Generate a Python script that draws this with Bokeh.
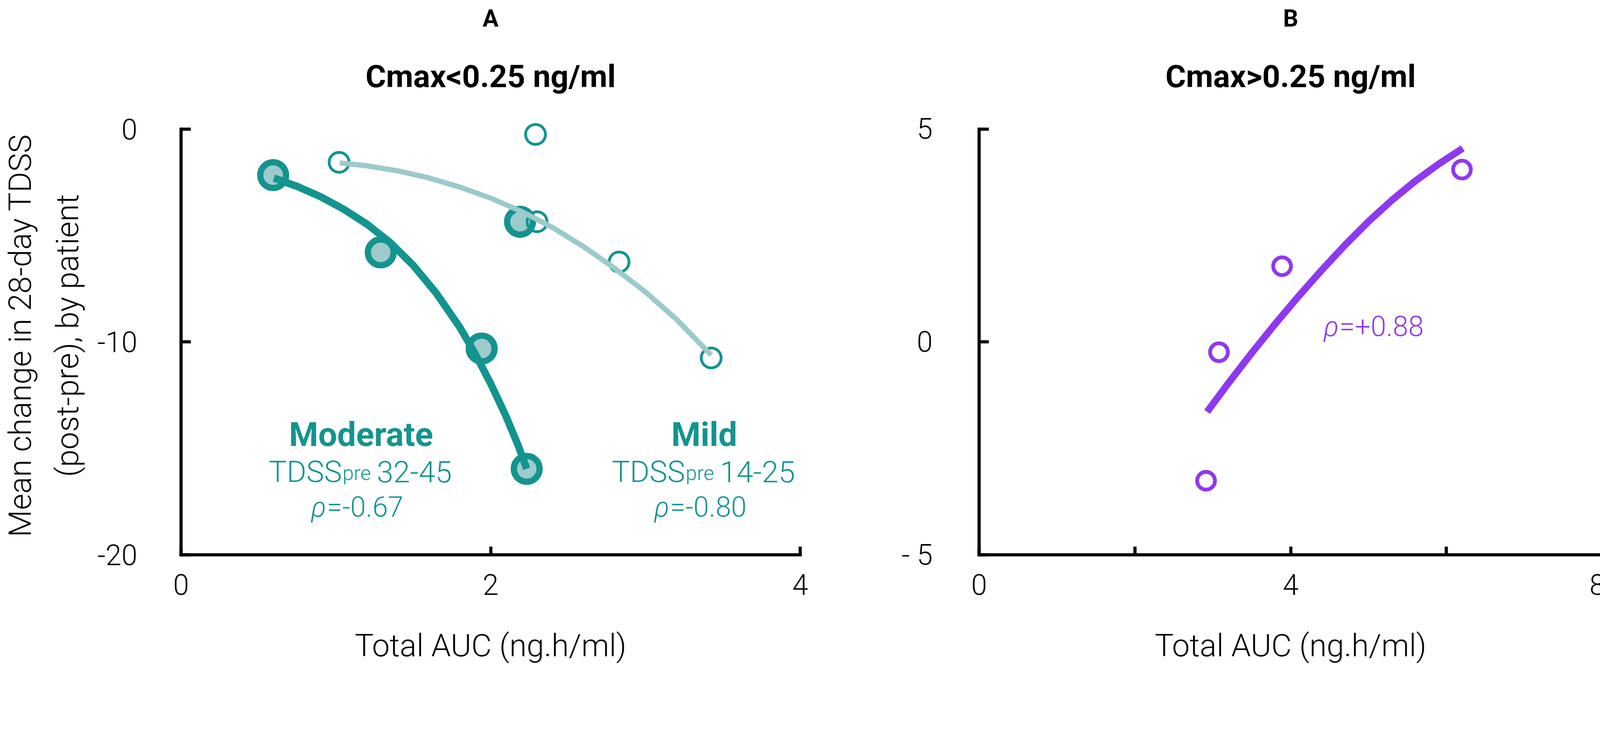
from bokeh.plotting import figure
from bokeh.models import Range1d, FixedTicker, Title, Label
from bokeh.layouts import row
from bokeh.embed import file_html
from bokeh.resources import INLINE

# ---------------- data ----------------
# Panel A : Cmax < 0.25 ng/ml
moderate_auc = [0.595, 1.29, 1.942, 2.233, 2.19]
moderate_dtdss = [-2.16, -5.79, -10.31, -15.96, -4.35]
mild_auc = [1.021, 2.29, 2.30, 2.83, 3.425]
mild_dtdss = [-1.56, -0.25, -4.35, -6.24, -10.75]
moderate_fit_auc = [0.60, 0.75, 0.90, 1.05, 1.20, 1.35, 1.50, 1.65, 1.80, 1.90, 2.00, 2.10, 2.18, 2.233]
moderate_fit_dtdss = [-2.30, -2.69, -3.17, -3.76, -4.46, -5.32, -6.40, -7.72, -9.30, -10.55,
                      -11.95, -13.50, -14.90, -15.96]
mild_fit_auc = [1.025, 1.20, 1.40, 1.60, 1.80, 2.00, 2.20, 2.40, 2.60, 2.80, 3.00, 3.20, 3.425]
mild_fit_dtdss = [-1.59, -1.72, -1.96, -2.29, -2.72, -3.24, -3.87, -4.62, -5.52, -6.53, -7.65,
                  -8.93, -10.62]

# Panel B : Cmax > 0.25 ng/ml
high_auc = [2.914, 3.08, 3.89, 6.20]
high_dtdss = [-3.26, -0.24, 1.78, 4.05]
high_fit_auc = [2.927, 3.2, 3.5, 3.8, 4.1, 4.4, 4.7, 5.0, 5.3, 5.6, 5.9, 6.21]
high_fit_dtdss = [-1.64, -0.97, -0.26, 0.42, 1.07, 1.69, 2.28, 2.83, 3.33, 3.78, 4.18, 4.55]

a_xticks = [0, 2, 4]
a_yticks = [-20, -10, 0]
a_ylabels = {-20: "-20", -10: "-10", 0: "0"}
b_xticks = [0, 4, 8]
b_xminor = [2, 6]
b_yticks = [-5, 0, 5]
b_ylabels = {-5: "- 5", 0: "0", 5: "5"}

# ---------------- styles ----------------
PX = 1 / 1.12          # reference pixels -> CSS pixels
TEAL = "#13948e"
TEAL_FILL = "#9dcbcc"
TEAL_LIGHT = "#9ccacb"
PURPLE = "#9038f0"
LIGHT = "Roboto Light"
BOLD = "Roboto"


def fs(v):
    return "%.1fpx" % (v * PX)


def ip(v):
    return int(round(v * PX))


H = 1701
TOP, BOTTOM = 297, 280
FRAME_H = H - TOP - BOTTOM
A_UNIT = 1222 * PX / 20     # px per y unit, panel A
B_UNIT = 1222 * PX / 10     # px per y unit, panel B


def style(p, ytick_in):
    p.outline_line_color = None
    p.grid.visible = False
    p.background_fill_color = "white"
    p.border_fill_color = "white"
    for ax in p.axis:
        ax.axis_line_width = 9 * PX
        ax.axis_line_color = "black"
        ax.axis_line_cap = "square"
        ax.major_tick_line_width = 9 * PX
        ax.major_tick_line_color = "black"
        ax.minor_tick_line_width = 9 * PX
        ax.minor_tick_line_color = "black"
        ax.major_tick_out = 0
        ax.minor_tick_out = 0
        ax.major_label_text_font = LIGHT
        ax.major_label_text_font_size = fs(82)
        ax.major_label_text_color = "black"
        ax.axis_label_text_font = LIGHT
        ax.axis_label_text_font_size = fs(90)
        ax.axis_label_text_font_style = "normal"
        ax.axis_label_text_color = "black"
    p.xaxis.major_tick_in = ip(24)
    p.xaxis.minor_tick_in = ip(24)
    p.yaxis.major_tick_in = ip(ytick_in)
    p.yaxis.minor_tick_in = 0
    p.xaxis.major_label_standoff = 49
    p.xaxis.axis_label_standoff = 79


def add_titles(p, sub, letter):
    # condition line (closest to the frame), then the panel letter above it
    p.add_layout(Title(text=sub, align="center", text_font=BOLD, text_font_style="bold",
                       text_font_size=fs(90), text_color="black", standoff=110), "above")
    p.add_layout(Title(text=letter, align="center", text_font=BOLD, text_font_style="bold",
                       text_font_size=fs(68), text_color="black", standoff=16), "above")


# ---------------- panel A ----------------
pA = figure(width=2142, height=H, output_backend="svg", toolbar_location=None,
            x_range=Range1d(0, 4), y_range=Range1d(-20, -20 + FRAME_H / A_UNIT),
            min_border_left=452, min_border_right=94,
            min_border_top=TOP, min_border_bottom=BOTTOM, title=None)
style(pA, 28)
pA.xaxis.ticker = FixedTicker(ticks=a_xticks, minor_ticks=[])
pA.yaxis.ticker = FixedTicker(ticks=a_yticks, minor_ticks=[])
pA.yaxis.major_label_overrides = a_ylabels
pA.yaxis.bounds = (-20, 0)
pA.xaxis.bounds = (0, 4)
pA.yaxis.major_label_standoff = 112
pA.yaxis.axis_label_standoff = 26
pA.yaxis.axis_label_text_line_height = 1.28
pA.xaxis.axis_label = "Total AUC (ng.h/ml)"
pA.yaxis.axis_label = "Mean change in 28-day TDSS\n(post-pre), by patient"
add_titles(pA, "Cmax<0.25 ng/ml", "A")

pA.scatter(moderate_auc, moderate_dtdss, size=74 * PX, line_width=18 * PX,
           line_color=TEAL, fill_color=TEAL_FILL)
pA.scatter(mild_auc, mild_dtdss, size=57 * PX, line_width=8 * PX,
           line_color=TEAL, fill_color=None)
pA.line(mild_fit_auc, mild_fit_dtdss, line_width=15 * PX, line_color=TEAL_LIGHT)
pA.line(moderate_fit_auc, moderate_fit_dtdss, line_width=21 * PX, line_color=TEAL)


def group_label(p, x, name):
    p.add_layout(Label(x=x, y=-14.35, text=name, text_align="center",
                       text_baseline="alphabetic", text_font=BOLD, text_font_style="bold",
                       text_font_size=fs(96), text_color=TEAL))


def tdss_label(p, x, rng):
    p.add_layout(Label(x=x, y=-16.1, x_offset=-55 * PX, text="TDSS", text_align="right",
                       text_baseline="alphabetic", text_font=LIGHT,
                       text_font_size=fs(86), text_color=TEAL))
    p.add_layout(Label(x=x, y=-16.1, x_offset=-53 * PX, y_offset=-4 * PX, text="pre",
                       text_align="left", text_baseline="alphabetic", text_font=LIGHT,
                       text_font_size=fs(58), text_color=TEAL))
    p.add_layout(Label(x=x, y=-16.1, x_offset=45 * PX, text=rng, text_align="left",
                       text_baseline="alphabetic", text_font=LIGHT,
                       text_font_size=fs(86), text_color=TEAL))


def rho_label(p, x, y, val, color, dx):
    p.add_layout(Label(x=x, y=y, x_offset=dx * PX, text="\u03c1", text_align="right",
                       text_baseline="alphabetic", text_font=LIGHT, text_font_style="italic",
                       text_font_size=fs(80), text_color=color))
    p.add_layout(Label(x=x, y=y, x_offset=(dx + 2) * PX, text=val, text_align="left",
                       text_baseline="alphabetic", text_font=LIGHT,
                       text_font_size=fs(80), text_color=color))


group_label(pA, 1.163, "Moderate")
tdss_label(pA, 1.163, "32-45")
rho_label(pA, 1.163, -17.76, "=-0.67", TEAL, -100)
group_label(pA, 3.38, "Mild")
tdss_label(pA, 3.38, "14-25")
rho_label(pA, 3.38, -17.76, "=-0.80", TEAL, -100)

# ---------------- panel B ----------------
pB = figure(width=1967, height=H, output_backend="svg", toolbar_location=None,
            x_range=Range1d(0, 8), y_range=Range1d(-5, -5 + FRAME_H / B_UNIT),
            min_border_left=364, min_border_right=8,
            min_border_top=TOP, min_border_bottom=BOTTOM, title=None)
style(pB, 28)
pB.xaxis.ticker = FixedTicker(ticks=b_xticks, minor_ticks=b_xminor)
pB.yaxis.ticker = FixedTicker(ticks=b_yticks, minor_ticks=[])
pB.yaxis.major_label_overrides = b_ylabels
pB.yaxis.bounds = (-5, 5)
pB.xaxis.bounds = (0, 8)
pB.yaxis.major_label_standoff = 119
pB.xaxis.axis_label = "Total AUC (ng.h/ml)"
add_titles(pB, "Cmax>0.25 ng/ml", "B")

pB.scatter(high_auc, high_dtdss, size=51 * PX, line_width=11 * PX,
           line_color=PURPLE, fill_color=None)
pB.line(high_fit_auc, high_fit_dtdss, line_width=20 * PX, line_color=PURPLE)
rho_label(pB, 4.632, 0.36, "=+0.88", PURPLE, -3)

layout = row(pA, pB)
open("out.html", "w").write(file_html(layout, INLINE))
